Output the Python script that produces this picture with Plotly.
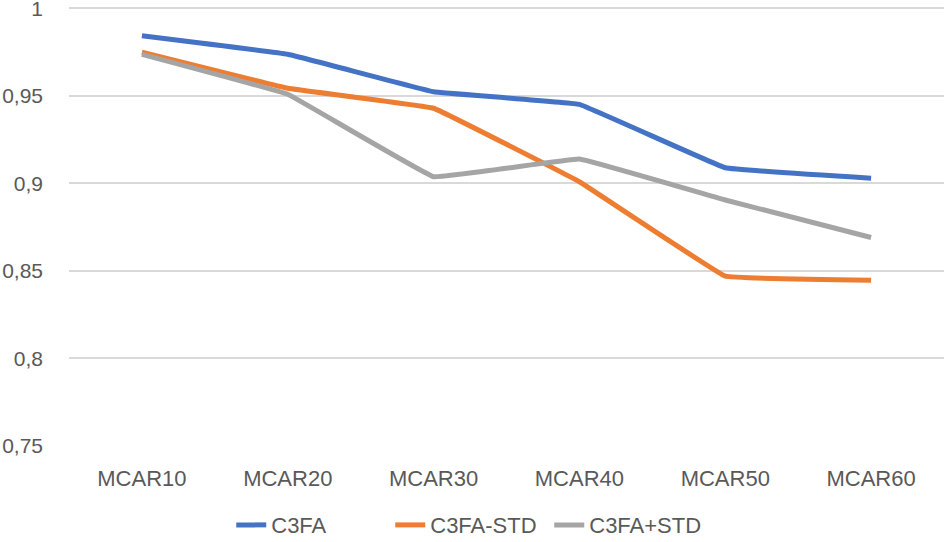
import plotly.graph_objects as go

categories = ["MCAR10", "MCAR20", "MCAR30", "MCAR40", "MCAR50", "MCAR60"]
c3fa = [0.9843, 0.9737, 0.9523, 0.9451, 0.9089, 0.9029]
c3fa_minus_std = [0.9749, 0.9543, 0.9429, 0.9009, 0.8470, 0.8447]
c3fa_plus_std = [0.9737, 0.9509, 0.9038, 0.9139, 0.8905, 0.8691]
y_tick_vals = [0.75, 0.8, 0.85, 0.9, 0.95, 1.0]
y_tick_text = ["0,75", "0,8", "0,85", "0,9", "0,95", "1"]

series = [
    ("C3FA", c3fa, "#4472C4"),
    ("C3FA-STD", c3fa_minus_std, "#ED7D31"),
    ("C3FA+STD", c3fa_plus_std, "#A5A5A5"),
]

fig = go.Figure()
for name, vals, color in series:
    fig.add_trace(go.Scatter(
        x=categories, y=vals, name=name, mode="lines",
        line=dict(color=color, width=5, shape="spline", smoothing=0.15),
    ))

font = dict(family="Liberation Sans, Arial, sans-serif", size=22, color="#595959")
yfont = dict(family="Liberation Sans, Arial, sans-serif", size=21, color="#595959")

fig.update_layout(
    width=944, height=542,
    margin=dict(l=69, r=0, t=6, b=96, autoexpand=False),
    paper_bgcolor="white", plot_bgcolor="white",
    font=font,
    showlegend=True,
    legend=dict(orientation="h", x=0.458, xanchor="center", y=-0.132, yanchor="top",
                font=font, itemwidth=30, tracegroupgap=0,
                entrywidth=114, entrywidthmode="pixels"),
    xaxis=dict(type="category", range=[-0.5, 5.5], showgrid=False, showline=False,
               zeroline=False, ticks="", tickfont=font, ticklabelstandoff=17,
               automargin=False),
    yaxis=dict(range=[0.75, 1.0013], tickvals=y_tick_vals, ticktext=y_tick_text,
               showgrid=True, gridcolor="#D9D9D9", gridwidth=1.5, zeroline=False,
               showline=False, ticks="", tickfont=yfont, ticklabelstandoff=25,
               ticklabeloverflow="allow", automargin=False),
)

fig.write_html(
    "out.html",
    config={"displayModeBar": False},
    post_script="document.body.style.margin='0';document.body.style.padding='0';",
)
